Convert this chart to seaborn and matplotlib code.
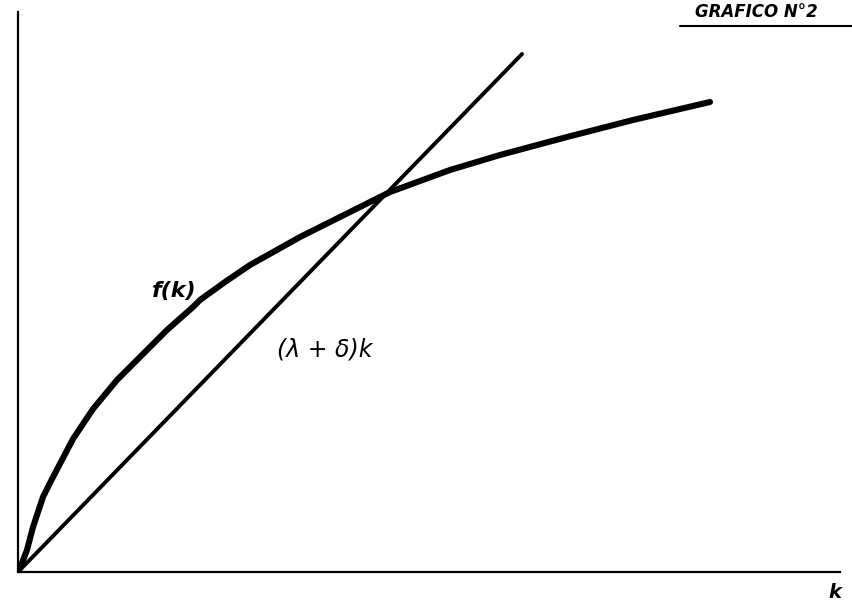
import numpy as np
import pandas as pd
import matplotlib.pyplot as plt
import seaborn as sns

# f(k) curve
k_curve = [0, 2, 9, 15, 25, 34, 55, 75, 99, 122, 149, 175, 182, 207, 232,
           282, 332, 372, 432, 482, 549, 615, 692]
f_curve = [0, 4, 22, 45, 75, 93, 133, 163, 192, 215, 242, 265, 272, 290, 307,
           335, 360, 380, 402, 417, 435, 452, 470]

# (lambda + delta) k line
k_line = [0, 504]
y_line = [0, 518]

sns.set_style("white")
plt.rcParams["font.family"] = ["DejaVu Sans"]
plt.rcParams["text.color"] = "black"

fig = plt.figure(figsize=(8.52, 6.03), dpi=100)
ax = fig.add_axes([18 / 852, 31 / 603, 822 / 852, 560 / 603])

df_curve = pd.DataFrame({"k": k_curve, "f": f_curve})
df_line = pd.DataFrame({"k": k_line, "y": y_line})

sns.lineplot(data=df_curve, x="k", y="f", ax=ax, color="black", linewidth=4.4,
             solid_capstyle="round", solid_joinstyle="round", sort=False)
sns.lineplot(data=df_line, x="k", y="y", ax=ax, color="black", linewidth=2.8,
             solid_capstyle="round", sort=False)

ax.set_xlim(0, 822)
ax.set_ylim(0, 560)
ax.set_xticks([])
ax.set_yticks([])
ax.set_xlabel("")
ax.set_ylabel("")
for side in ["top", "right"]:
    ax.spines[side].set_visible(False)
for side in ["left", "bottom"]:
    ax.spines[side].set_color("black")
    ax.spines[side].set_linewidth(1.6)

ax.text(156, 281, "f(k)", fontsize=16, fontstyle="italic", fontweight="bold",
        ha="center", va="center", color="black")
ax.text(307, 222, "(λ + δ)k", fontsize=17, fontstyle="italic", ha="center",
        va="center", color="black")
ax.text(817, -21, "k", fontsize=14, fontstyle="italic", fontweight="bold",
        ha="center", va="center", clip_on=False, color="black")

fig.text(756 / 852, 1 - 12 / 603, "GRAFICO N°2", fontsize=12, fontstyle="italic",
         fontweight="bold", ha="center", va="center", color="black")
fig.add_artist(plt.Line2D([680 / 852, 1.0], [1 - 26 / 603, 1 - 26 / 603],
                          color="black", linewidth=1.5))

fig.savefig("out.png", dpi=100, facecolor="white")
